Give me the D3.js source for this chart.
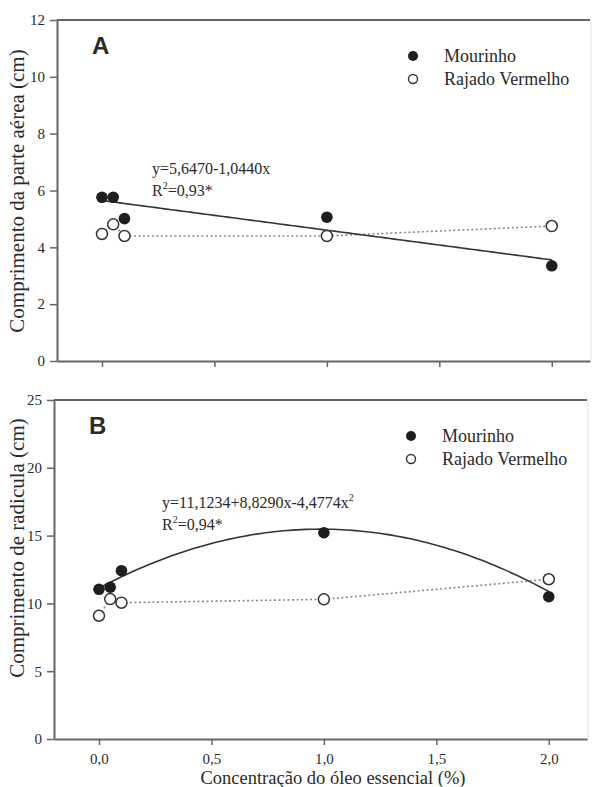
<!DOCTYPE html>
<html lang="pt">
<head>
<meta charset="UTF-8">
<title>Comprimento</title>
<style>
  body { margin: 0; background: #fff; }
  svg { display: block; }
  text { font-family: "Liberation Serif", "DejaVu Serif", "Times New Roman", serif; fill: #2a2a2a; }
</style>
</head>
<body>
<svg width="595" height="787"></svg>
<script src="https://cdn.jsdelivr.net/npm/d3@7.8.5/dist/d3.min.js"></script>
<script>
// data
const conc = [0, 0.05, 0.1, 1, 2]
const mourinhoA = [5.76, 5.76, 5.01, 5.06, 3.35]
const rajadoA = [4.47, 4.81, 4.40, 4.40, 4.75]
const mourinhoB = [11.04, 11.19, 12.41, 15.21, 10.49]
const rajadoB = [9.09, 10.32, 10.05, 10.30, 11.78]
const fitA = [5.6470, -1.0440]
const fitB = [11.1234, 8.8290, -4.4774]
const xTicks = [0, 0.5, 1, 1.5, 2]
const yTicksA = [0, 2, 4, 6, 8, 10, 12]
const yTicksB = [0, 5, 10, 15, 20, 25]
const seriesNames = ['Mourinho', 'Rajado Vermelho']

const serif = '"Liberation Serif", "DejaVu Serif", "Times New Roman", serif'
const svg = d3.select('svg')
const fmt = d => d3.format('.1f')(d).replace('.', ',')

function panel(opt) {
  const x = d3.scaleLinear().domain([-0.2, 2.17]).range([opt.left, opt.left + 533])
  const y = d3.scaleLinear().domain(opt.yDomain).range([opt.bottom, opt.top])
  const g = svg.append('g')

  // frame
  g.append('line').attr('x1', opt.left).attr('x2', opt.left + 533)
    .attr('y1', opt.top).attr('y2', opt.top).attr('stroke', '#666').attr('stroke-width', 2)
  g.append('line').attr('x1', opt.left + 534).attr('x2', opt.left + 534)
    .attr('y1', opt.top).attr('y2', opt.bottom).attr('stroke', '#e4e4e4').attr('stroke-width', 1)

  const ya = g.append('g').attr('transform', `translate(${opt.left},0)`)
    .call(d3.axisLeft(y).tickValues(opt.yTicks).tickSize(7).tickPadding(5).tickSizeOuter(0))
  const xa = g.append('g').attr('transform', `translate(0,${opt.bottom})`)
    .call(d3.axisBottom(x).tickValues(xTicks).tickSize(6).tickPadding(8).tickSizeOuter(0)
      .tickFormat(opt.xLabels ? fmt : ''))
  for (const a of [ya, xa]) {
    a.attr('font-family', null)
    a.select('.domain').attr('stroke', '#666').attr('stroke-width', 2)
    a.selectAll('.tick line').attr('stroke', '#666').attr('stroke-width', 1.5)
    a.selectAll('text').attr('font-size', 15).style('font-family', serif).attr('fill', '#3a3a3a')
  }

  // dotted line through the open points
  g.append('path')
    .datum(conc.map((c, i) => [c, opt.open[i]]))
    .attr('fill', 'none').attr('stroke', '#888').attr('stroke-width', 1.6)
    .attr('stroke-dasharray', '2,2.5')
    .attr('d', d3.line().x(d => x(d[0])).y(d => y(d[1])))

  // fitted curve for the filled series
  const xs = d3.range(0, 2.001, 0.02)
  g.append('path')
    .datum(xs.map(v => [v, opt.fit.reduce((s, c, k) => s + c * Math.pow(v, k), 0)]))
    .attr('fill', 'none').attr('stroke', '#333').attr('stroke-width', 1.6)
    .attr('d', d3.line().x(d => x(d[0])).y(d => y(d[1])))

  g.selectAll('.open').data(opt.open).join('circle')
    .attr('cx', (d, i) => x(conc[i])).attr('cy', d => y(d)).attr('r', 5.5)
    .attr('fill', '#fff').attr('stroke', '#333').attr('stroke-width', 1.5)
  g.selectAll('.filled').data(opt.filled).join('circle')
    .attr('cx', (d, i) => x(conc[i])).attr('cy', d => y(d)).attr('r', 5.8)
    .attr('fill', '#1e1e1e')

  // panel letter
  g.append('text').attr('x', opt.left + 35).attr('y', opt.top + 34)
    .style('font-family', 'Arial, "Liberation Sans", sans-serif')
    .attr('font-weight', 'bold').attr('font-size', 24).attr('fill', '#222').text(opt.letter)

  // legend
  const lg = g.append('g').attr('transform', `translate(${opt.legendX},${opt.top + 36})`)
  lg.append('circle').attr('cx', 0).attr('cy', 0).attr('r', 5).attr('fill', '#1e1e1e')
  lg.append('circle').attr('cx', 0).attr('cy', 23).attr('r', 4.5).attr('fill', '#fff')
    .attr('stroke', '#333').attr('stroke-width', 1.4)
  seriesNames.forEach((n, i) => lg.append('text').attr('x', 31).attr('y', 6 + i * 23)
    .attr('font-size', 18).text(n))

  // equation
  const eq = g.append('g')
  const t1 = eq.append('text').attr('x', opt.eqX).attr('y', opt.eqY).attr('font-size', 16)
  t1.append('tspan').text(opt.eq)
  if (opt.eqSq) t1.append('tspan').attr('dy', -7).attr('font-size', 10).text('2')
  const t2 = eq.append('text').attr('x', opt.eqX).attr('y', opt.eqY + 22).attr('font-size', 16)
  t2.append('tspan').text('R')
  t2.append('tspan').attr('dy', -7).attr('font-size', 10).text('2')
  t2.append('tspan').attr('dy', 7).text(opt.r2)

  // y label
  g.append('text')
    .attr('transform', `translate(24,${opt.labelY}) rotate(-90)`)
    .attr('text-anchor', 'middle').attr('font-size', 21).text(opt.yLabel)
}

panel({
  letter: 'A', left: 57, top: 20, bottom: 361, yDomain: [0, 12], yTicks: yTicksA,
  filled: mourinhoA, open: rajadoA, fit: fitA, xLabels: false,
  legendX: 413, eqX: 152, eqY: 174, eq: 'y=5,6470-1,0440x', eqSq: false, r2: '=0,93*',
  yLabel: 'Comprimento da parte aérea (cm)', labelY: 191
})
panel({
  letter: 'B', left: 54, top: 400, bottom: 739, yDomain: [0, 25], yTicks: yTicksB,
  filled: mourinhoB, open: rajadoB, fit: fitB, xLabels: true,
  legendX: 411, eqX: 162, eqY: 508, eq: 'y=11,1234+8,8290x-4,4774x', eqSq: true, r2: '=0,94*',
  yLabel: 'Comprimento de radicula (cm)', labelY: 548
})

svg.append('text').attr('x', 333).attr('y', 784).attr('text-anchor', 'middle')
  .attr('font-size', 18.5).text('Concentração do óleo essencial (%)')
</script>
</body>
</html>
